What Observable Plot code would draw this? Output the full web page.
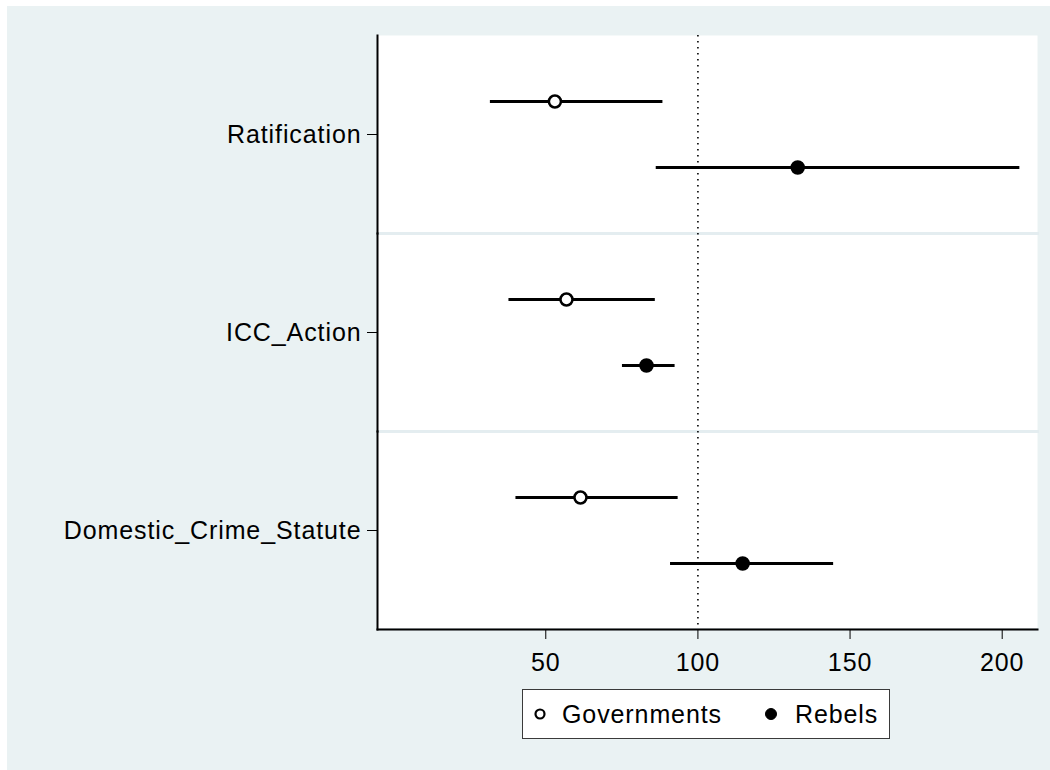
<!DOCTYPE html>
<html>
<head>
<meta charset="utf-8">
<script src="https://cdn.jsdelivr.net/npm/d3@7"></script>
<script src="https://cdn.jsdelivr.net/npm/@observablehq/plot@0.6"></script>
<style>
  html, body { margin:0; padding:0; background:#ffffff; width:1050px; height:770px; overflow:hidden; }
  #bg { position:absolute; left:7px; top:6px; width:1043px; height:764px; background:#EAF2F3; }
  #chart { position:absolute; left:0; top:0; }
  #legend { position:absolute; left:522px; top:689px; width:368px; height:50px; box-sizing:border-box;
            border:1px solid #3a3a3a; background:#ffffff; font-family:"Liberation Sans", Arial, sans-serif; font-size:25px; letter-spacing:0.9px; color:#000; }
  #legend .item { position:absolute; top:0; height:48px; display:flex; align-items:center; }
  #legend svg { position:absolute; }
</style>
</head>
<body>
<div id="bg"></div>
<div id="chart"></div>
<div id="legend"></div>
<script>
// ---- data ----
const categories = ["Ratification", "ICC_Action", "Domestic_Crime_Statute"];
const groups = ["Governments", "Rebels"];
const govEst = [53.0, 56.8, 61.4];
const govLo  = [31.8, 37.9, 40.2];
const govHi  = [88.5, 86.0, 93.5];
const rebEst = [132.8, 83.1, 114.7];
const rebLo  = [86.3, 75.2, 91.0];
const rebHi  = [205.8, 92.5, 144.6];
const xTicks = [50, 100, 150, 200];
const refLine = [100];

const rows = [];
categories.forEach((c, i) => {
  rows.push({cat: c, group: groups[0], est: govEst[i], lo: govLo[i], hi: govHi[i]});
  rows.push({cat: c, group: groups[1], est: rebEst[i], lo: rebLo[i], hi: rebHi[i]});
});

const chart = Plot.plot({
  width: 1050,
  height: 680,
  marginLeft: 377,
  marginRight: 13,
  marginTop: 34,
  marginBottom: 51,
  style: {background: "transparent", fontFamily: "'Liberation Sans', Arial, sans-serif", fontSize: "25px", letterSpacing: "0.9px", color: "black"},
  x: {domain: [-5.3, 211.6], axis: null},
  y: {type: "point", domain: groups, padding: 1, axis: null},
  fy: {domain: categories, padding: 0, axis: null},
  color: {domain: groups, range: ["white", "black"]},
  marks: [
    Plot.frame({fill: "white", stroke: "none"}),
    Plot.frame({anchor: "bottom", stroke: "#e4edf0", strokeWidth: 3}),
    Plot.ruleX(refLine, {stroke: "black", strokeWidth: 1.6, strokeDasharray: "1.4,4.6"}),
    Plot.ruleY(rows, {fy: "cat", y: "group", x1: "lo", x2: "hi", stroke: "black", strokeWidth: 3}),
    Plot.dot(rows, {fy: "cat", y: "group", x: "est", r: 6, fill: "group", stroke: "black", strokeWidth: 2.5}),
    Plot.frame({anchor: "left", stroke: "black", strokeWidth: 2}),
    Plot.frame({anchor: "bottom", stroke: "black", strokeWidth: 2, facetAnchor: "bottom"}),
    Plot.axisFy({anchor: "left", tickSize: 10, tickPadding: 6, fontSize: 25, label: null, stroke: "black"}),
    Plot.axisX({ticks: xTicks, tickSize: 10, tickPadding: 14, fontSize: 25, label: null, stroke: "black", tickFormat: d3.format("d")})
  ]
});
document.getElementById("chart").appendChild(chart);

// ---- legend ----
const legend = d3.select("#legend");
const legendPos = [{marker: 17, text: 39}, {marker: 248, text: 272}];
groups.forEach((g, i) => {
  const svg = legend.append("svg").attr("width", 20).attr("height", 20)
    .style("left", (legendPos[i].marker - 10) + "px").style("top", "14px");
  svg.append("circle").attr("cx", 10).attr("cy", 10).attr("r", i === 0 ? 4.5 : 5.5)
    .attr("fill", i === 0 ? "white" : "black").attr("stroke", "black").attr("stroke-width", i === 0 ? 2.2 : 1);
  legend.append("div").attr("class", "item").style("left", legendPos[i].text + "px").text(g);
});
</script>
</body>
</html>
